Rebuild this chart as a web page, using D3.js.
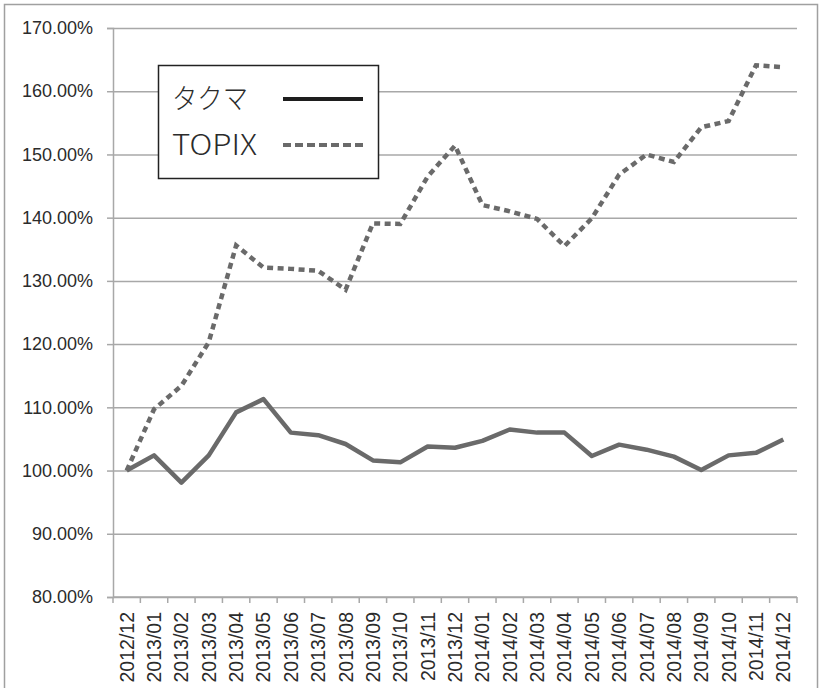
<!DOCTYPE html>
<html>
<head>
<meta charset="utf-8">
<script src="https://cdn.jsdelivr.net/npm/d3@7"></script>
<style>
  body { margin: 0; background: #fff; }
  svg { display: block; }
</style>
</head>
<body>
<div id="chart"></div>
<script>
// data
const months = ['2012/12', '2013/01', '2013/02', '2013/03', '2013/04', '2013/05', '2013/06',
  '2013/07', '2013/08', '2013/09', '2013/10', '2013/11', '2013/12', '2014/01', '2014/02',
  '2014/03', '2014/04', '2014/05', '2014/06', '2014/07', '2014/08', '2014/09', '2014/10',
  '2014/11', '2014/12']
const takuma = [100.0, 102.4, 98.1, 102.4, 109.2, 111.3, 106.0, 105.6, 104.2, 101.6, 101.3,
  103.8, 103.6, 104.7, 106.5, 106.0, 106.0, 102.3, 104.1, 103.3, 102.2, 100.1, 102.4, 102.8, 104.9]
const topix = [100.0, 109.7, 113.4, 120.3, 135.6, 132.1, 131.9, 131.6, 128.6, 139.1, 139.0,
  146.5, 151.4, 142.0, 141.0, 139.8, 135.5, 139.9, 146.8, 150.0, 148.8, 154.3, 155.3, 164.1, 163.8]
const yTicks = [80, 90, 100, 110, 120, 130, 140, 150, 160, 170]
const seriesNames = ['タクマ', 'TOPIX']

const W = 820, H = 695
const plot = {left: 113, right: 797, top: 28, bottom: 597}
const gridColor = '#a8a8a8'
const lineColor = '#6a6a6a'
const textColor = '#2b2b2b'
const labelFont = '"Liberation Sans", Arial, sans-serif'

const svg = d3.select('#chart').append('svg')
  .attr('width', W)
  .attr('height', H)

// outer frame
svg.append('path')
  .attr('d', `M4.5,688 V4.5 H817.5 V688`)
  .attr('fill', 'none')
  .attr('stroke', '#a0a0a0')
  .attr('stroke-width', 1.5)

const x = d3.scaleBand().domain(months).range([plot.left, plot.right])
const y = d3.scaleLinear().domain([80, 170]).range([plot.bottom, plot.top])

// y grid + axis
const yAxis = svg.append('g')
  .attr('transform', `translate(${plot.left},0)`)
  .call(d3.axisLeft(y).tickValues(yTicks)
    .tickSize(6).tickPadding(14)
    .tickFormat(d => d3.format('.2f')(d) + '%'))
yAxis.select('.domain').attr('stroke', gridColor).attr('stroke-width', 1.5)
yAxis.selectAll('.tick line').attr('stroke', gridColor).attr('stroke-width', 1.5)
  .attr('x2', -6)
yAxis.selectAll('.tick').append('line')
  .attr('x1', 0).attr('x2', plot.right - plot.left)
  .attr('stroke', gridColor).attr('stroke-width', 1.5)
yAxis.selectAll('text')
  .attr('fill', textColor)
  .style('font-family', labelFont)
  .style('font-size', '18px')

// x axis with ticks between categories
const xAxis = svg.append('g')
  .attr('transform', `translate(0,${plot.bottom})`)
xAxis.append('line')
  .attr('x1', plot.left).attr('x2', plot.right)
  .attr('stroke', gridColor).attr('stroke-width', 1.5)
const bounds = months.map(m => x(m)).concat([plot.right])
xAxis.selectAll('line.tk').data(bounds).enter().append('line')
  .attr('class', 'tk')
  .attr('x1', d => d).attr('x2', d => d)
  .attr('y1', 0).attr('y2', 6)
  .attr('stroke', gridColor).attr('stroke-width', 1.5)
xAxis.selectAll('text').data(months).enter().append('text')
  .attr('transform', d => `translate(${x(d) + x.bandwidth() / 2 + 7},15) rotate(-90)`)
  .attr('text-anchor', 'end')
  .attr('fill', textColor)
  .style('font-family', labelFont)
  .style('font-size', '19.5px')
  .text(d => d)

// lines
const line = d3.line()
  .x((d, i) => x(months[i]) + x.bandwidth() / 2)
  .y(d => y(d))

svg.append('path')
  .datum(takuma)
  .attr('d', line)
  .attr('fill', 'none')
  .attr('stroke', lineColor)
  .attr('stroke-width', 4.5)
  .attr('stroke-linejoin', 'round')

svg.append('path')
  .datum(topix)
  .attr('d', line)
  .attr('fill', 'none')
  .attr('stroke', lineColor)
  .attr('stroke-width', 4.5)
  .attr('stroke-dasharray', '6,4.5')

// legend
const legend = svg.append('g')
legend.append('rect')
  .attr('x', 158.5).attr('y', 65.5)
  .attr('width', 220).attr('height', 113)
  .attr('fill', '#fff')
  .attr('stroke', '#222')
  .attr('stroke-width', 1.5)

const legendRows = [
  {name: seriesNames[0], y: 99, len: 76, color: '#1e1e1e', dash: null},
  {name: seriesNames[1], y: 145, len: 85, color: lineColor, dash: '8,4'},
]
legendRows.forEach(r => {
  legend.append('text')
    .attr('x', 172).attr('y', r.y + 10)
    .attr('fill', textColor)
    .attr('textLength', r.len)
    .attr('lengthAdjust', 'spacingAndGlyphs')
    .style('font-family', '"Noto Sans CJK JP", "Noto Sans", sans-serif')
    .style('font-weight', 300)
    .style('font-size', '28px')
    .text(r.name)
  legend.append('line')
    .attr('x1', 283).attr('x2', 363)
    .attr('y1', r.y).attr('y2', r.y)
    .attr('stroke', r.color)
    .attr('stroke-width', 4)
    .attr('stroke-dasharray', r.dash)
})
</script>
</body>
</html>
